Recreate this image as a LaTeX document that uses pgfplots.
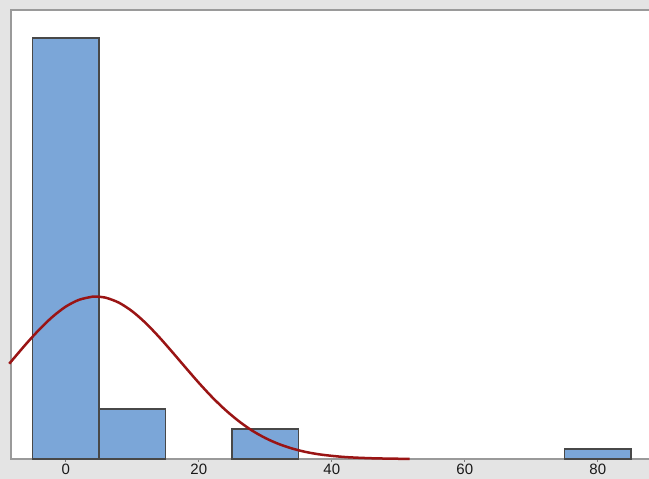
\documentclass[border=0pt]{standalone}
\usepackage{pgfplots}
\pgfplotsset{compat=1.18}
\usepackage{fontspec}
\setmainfont{Liberation Sans}
\definecolor{bg}{HTML}{E4E4E4}
\definecolor{frame}{HTML}{9A9A9A}
\definecolor{barfill}{HTML}{7BA6D8}
\definecolor{baredge}{HTML}{484848}
\definecolor{curve}{HTML}{9A1414}
\begin{document}
\begin{tikzpicture}[x=1pt,y=1pt]
\useasboundingbox (0,0) rectangle (649,479);
\clip (0,0) rectangle (649,479);
\fill[bg] (0,0) rectangle (649,479);
\begin{axis}[
 at={(16.9,20)}, anchor=south west,
 scale only axis, width=646.4pt, height=449pt,
 xmin=-8.2, xmax=89, ymin=0, ymax=44.8,
 clip=false,
 axis background/.style={fill=white},
 axis line style={draw=frame, line width=2pt},
 xtick={0,20,40,60,80}, ytick=\empty,
 xtick pos=bottom, tick align=outside, major tick length=3pt,
 tick style={draw=frame!80!black, line width=1pt},
 xticklabel style={font=\fontsize{15}{15}\selectfont, text=black!90, inner sep=1pt, yshift=-1pt},
 /pgf/number format/assume math mode=true,
]
\addplot[ybar interval, fill=barfill, draw=baredge, line width=1.5pt] coordinates {(-5,42) (5,5) (15,5)};
\addplot[ybar interval, fill=barfill, draw=baredge, line width=1.5pt] coordinates {(25,3) (35,3)};
\addplot[ybar interval, fill=barfill, draw=baredge, line width=1.5pt] coordinates {(75,1) (85,1)};
\addplot[smooth, draw=curve, line width=2.5pt] coordinates {
(-8.5,9.5) (-6,11.45) (-4,12.90) (-2,14.18) (0,15.20) (2,15.88) (4,16.19) (4.5,16.2)
(6,16.09) (8,15.59) (10,14.73) (12,13.57) (14,12.19) (16,10.68) (18,9.13) (20,7.60)
(22,6.17) (24,4.89) (26,3.78) (28,2.84) (30,2.09) (32,1.50) (34,1.05) (36,0.71)
(38,0.47) (40,0.31) (42,0.19) (44,0.12) (46,0.07) (48,0.04) (50,0.02) (51.7,0.01)};
\end{axis}
\end{tikzpicture}
\end{document}
